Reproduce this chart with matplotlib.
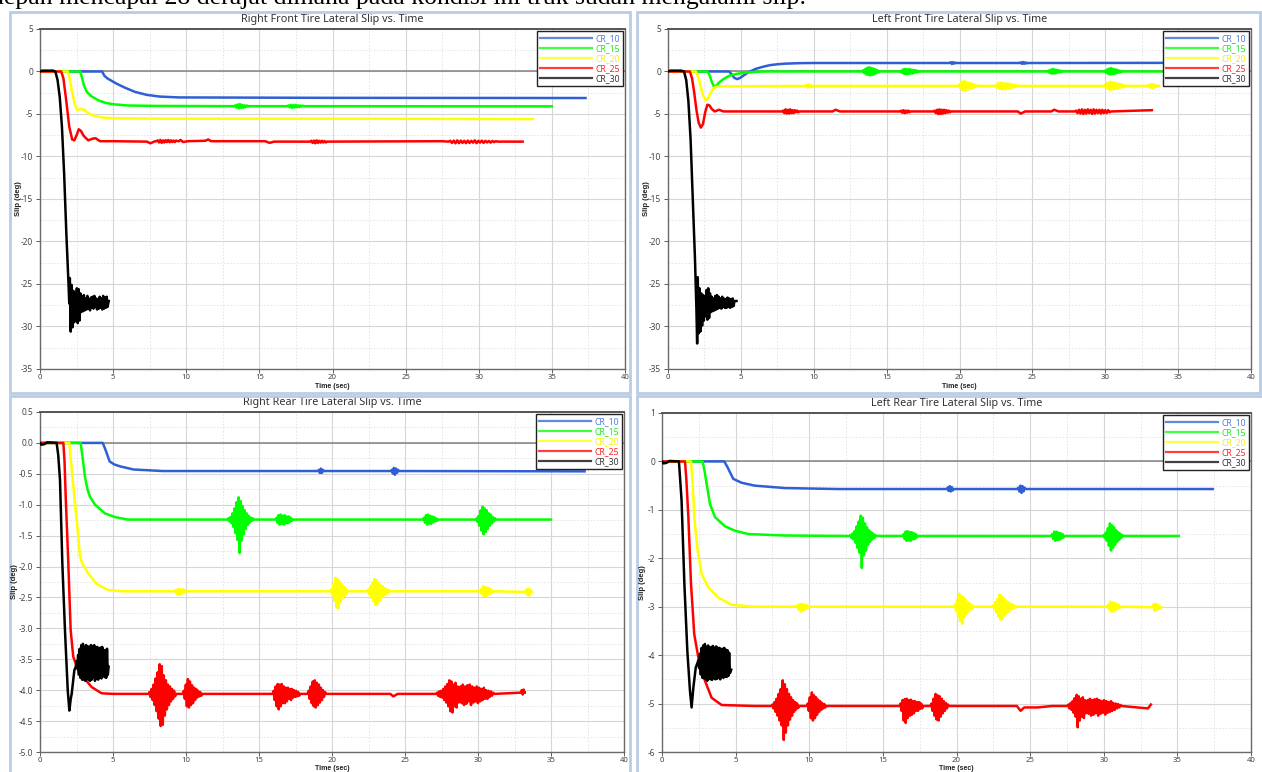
import numpy as np
import matplotlib
matplotlib.use("Agg")
import matplotlib.pyplot as plt
from matplotlib.patches import Rectangle
from matplotlib.ticker import MultipleLocator, FormatStrFormatter

plt.rcParams['axes.unicode_minus'] = False
plt.rcParams['font.family'] = ['Noto Sans', 'DejaVu Sans']

SERIES = ["CR_10", "CR_15", "CR_20", "CR_25", "CR_30"]
LINE_COLORS = ['#2f5fd4', '#00ff00', '#ffff00', '#ff0000', '#000000']
LABEL_COLORS = ['#4f7fe0', '#1ee81e', '#f2f200', '#ff2020', '#333333']
TIME_TICKS = [0, 5, 10, 15, 20, 25, 30, 35, 40]

# ---------------- Right Front ----------------
rf10_knots = [(0,0),(4.25,0),(4.4,-0.5),(4.6,-0.8),(4.8,-1.0),(5.2,-1.4),(5.8,-1.9),(6.5,-2.4),(7.3,-2.75),(8.2,-2.95),(9.5,-3.05),(20,-3.1),(37.3,-3.12)]
rf10_bursts = []
rf15_knots = [(0,0),(2.75,0),(2.85,-0.6),(3.0,-1.6),(3.2,-2.4),(3.5,-2.9),(4.0,-3.4),(4.5,-3.7),(5.0,-3.85),(6,-4.0),(8,-4.05),(13.2,-4.08),(14.4,-4.08),(16.9,-4.08),(18.1,-4.08),(35,-4.1)]
rf15_bursts = [(13.35, 0.08, -4.08, [0.1,-0.15,0.2,-0.25,0.25,-0.2,0.15,-0.2,0.1,-0.1,0.08,-0.05]),
               (17.0, 0.08, -4.08, [0.1,-0.15,0.15,-0.2,0.12,-0.15,0.15,-0.1,0.1,-0.12,0.08,-0.05,0.05])]
rf20_knots = [(0,0),(1.9,0),(2.0,-0.6),(2.2,-2.5),(2.4,-4.0),(2.55,-4.5),(2.8,-4.4),(3.0,-4.5),(3.3,-4.9),(3.7,-5.2),(4.2,-5.4),(5,-5.5),(8,-5.55),(20,-5.55),(33.7,-5.6)]
rf20_bursts = []
rf25_knots = [(0,0),(1.45,0),(1.6,-0.8),(1.8,-3.5),(2.0,-6.5),(2.2,-8.0),(2.35,-8.1),(2.5,-7.5),(2.65,-6.8),(2.8,-7.0),(3.0,-7.6),(3.3,-8.1),(3.6,-7.9),(3.8,-7.85),(4.1,-8.2),(5,-8.2),(7.3,-8.25),(7.55,-8.45),(7.8,-8.25),(7.9,-8.2),(9.5,-8.2),(9.6,-8.05),(9.8,-8.3),(10.1,-8.2),(11.3,-8.15),(11.5,-8.0),(11.7,-8.2),(15.4,-8.2),(15.7,-8.4),(16.0,-8.25),(18.4,-8.25),(19.7,-8.25),(27.5,-8.2),(27.9,-8.25),(31.4,-8.25),(33,-8.25)]
rf25_bursts = [(8.05, 0.09, -8.2, [0.1,-0.15,0.15,-0.2,0.1,-0.15,0.12,-0.1,0.15,-0.12,0.1,-0.1,0.08,-0.1,0.08]),
               (18.55, 0.09, -8.25, [0.1,-0.15,0.12,-0.2,0.15,-0.15,0.1,-0.12,0.1,-0.1,0.08,-0.1]),
               (28.05, 0.12, -8.25, [0.1,-0.15,0.12,-0.2,0.15,-0.18,0.12,-0.15,0.1,-0.18,0.12,-0.15,0.1,-0.12,0.15,-0.18,0.1,-0.12,0.12,-0.15,0.1,-0.1,0.08,-0.12,0.08,-0.06,0.05])]
rf30_knots = [(0,0),(0.15,0.1),(0.9,0.1),(1.05,0),(1.2,-1.0),(1.35,-3),(1.5,-6.5),(1.65,-12),(1.8,-19),(1.95,-25),(2.0,-27.3),(4.7,-27.0)]
rf30_bursts = [(2.04, 0.06, -27.3, [3.0,-3.3,2.2,-2.8,1.5,-2.2,1.3,-1.8,1.8,-2.3,1.7,-2.0,1.2,-1.0,0.8,-0.9,1.0,-0.8,0.6,-0.7,0.9,-0.6,0.5,-0.8,0.7,-0.5,0.8,-0.6,0.9,-0.4,0.6,-0.7,0.5,-0.6,0.8,-0.5,0.6,-0.7,0.9,-0.6,0.7,-0.5,0.8,-0.4])]

# ---------------- Left Front ----------------
lf10_knots = [(0,0),(4.2,0),(4.35,-0.3),(4.55,-0.75),(4.75,-0.9),(4.95,-0.75),(5.2,-0.45),(5.5,-0.1),(6.0,0.3),(6.5,0.55),(7.0,0.75),(7.5,0.85),(8.0,0.92),(9.0,0.98),(10,1.0),(37.3,1.02)]
lf10_bursts = [(19.4, 0.08, 1.0, [0.1,-0.12,0.1,-0.08,0.05]),
               (24.2, 0.08, 1.0, [0.08,-0.1,0.12,-0.1,0.08,-0.05])]
lf15_knots = [(0,0),(2.7,0),(2.85,-0.4),(3.0,-1.2),(3.15,-1.75),(3.3,-1.7),(3.5,-1.3),(3.8,-0.9),(4.2,-0.5),(4.8,-0.25),(5.5,-0.1),(6.5,0),(35,0)]
lf15_bursts = [(13.4, 0.07, 0, [0.15,-0.2,0.3,-0.35,0.45,-0.4,0.5,-0.45,0.4,-0.4,0.35,-0.3,0.25,-0.2,0.15,-0.1]),
               (16.0, 0.07, 0, [0.1,-0.15,0.25,-0.3,0.3,-0.3,0.25,-0.3,0.3,-0.25,0.2,-0.25,0.2,-0.15,0.15,-0.1,0.08,-0.05]),
               (26.1, 0.07, 0, [0.1,-0.15,0.2,-0.25,0.3,-0.25,0.25,-0.2,0.2,-0.15,0.15,-0.1,0.1,-0.05]),
               (30.0, 0.07, 0, [0.1,-0.15,0.25,-0.3,0.35,-0.35,0.4,-0.3,0.3,-0.3,0.25,-0.2,0.2,-0.15,0.1,-0.1,0.05])]
lf20_knots = [(0,0),(1.9,0),(2.05,-0.5),(2.2,-1.5),(2.4,-2.8),(2.6,-3.4),(2.75,-3.2),(2.9,-2.6),(3.1,-2.0),(3.3,-1.8),(4,-1.75),(9.0,-1.7),(33.7,-1.7)]
lf20_bursts = [(9.5, 0.08, -1.7, [0.15,-0.2,0.15,-0.15,0.1,-0.1]),
               (20.0, 0.07, -1.7, [0.2,-0.3,0.45,-0.5,0.6,-0.55,0.5,-0.45,0.4,-0.4,0.35,-0.3,0.3,-0.25,0.2,-0.15,0.1]),
               (22.5, 0.08, -1.7, [0.1,-0.2,0.3,-0.35,0.4,-0.4,0.35,-0.4,0.3,-0.35,0.3,-0.3,0.25,-0.25,0.2,-0.2,0.15,-0.1,0.1,-0.05]),
               (30.0, 0.08, -1.7, [0.15,-0.25,0.35,-0.4,0.5,-0.45,0.45,-0.4,0.4,-0.35,0.3,-0.3,0.25,-0.2,0.2,-0.15,0.1,-0.1]),
               (33.0, 0.08, -1.7, [0.15,-0.2,0.2,-0.25,0.2,-0.15,0.1,-0.1])]
lf25_knots = [(0,0),(1.5,0),(1.65,-0.8),(1.8,-2.5),(1.95,-4.5),(2.1,-6.0),(2.25,-6.6),(2.4,-6.2),(2.55,-4.8),(2.7,-3.9),(2.85,-4.0),(3.0,-4.4),(3.2,-4.7),(3.5,-4.5),(3.8,-4.7),(4.5,-4.7),(11.3,-4.7),(11.5,-4.5),(11.8,-4.7),(24.0,-4.7),(24.2,-4.95),(24.5,-4.7),(26.3,-4.7),(26.5,-4.5),(26.8,-4.7),(33.2,-4.55)]
lf25_bursts = [(7.9, 0.08, -4.7, [0.1,-0.2,0.25,-0.25,0.2,-0.25,0.25,-0.2,0.15,-0.2,0.15,-0.1,0.1,-0.1]),
               (16.0, 0.08, -4.7, [0.1,-0.15,0.15,-0.2,0.1,-0.15,0.1,-0.1]),
               (18.3, 0.08, -4.7, [0.1,-0.2,0.2,-0.3,0.25,-0.3,0.2,-0.25,0.2,-0.2,0.15,-0.15,0.1,-0.1]),
               (28.0, 0.1, -4.7, [0.1,-0.2,0.2,-0.25,0.25,-0.3,0.2,-0.25,0.25,-0.2,0.2,-0.3,0.25,-0.25,0.2,-0.2,0.2,-0.25,0.2,-0.2,0.15,-0.2,0.15,-0.1])]
lf30_knots = [(0,0),(0.15,0.1),(0.9,0.1),(1.1,0),(1.25,-1),(1.4,-3.5),(1.55,-8),(1.7,-15),(1.85,-22),(1.95,-28),(2.0,-32.0),(4.7,-27.0)]
lf30_bursts = [(2.04, 0.06, -27.3, [3.1,-3.5,1.8,-3.3,1.2,-2.6,1.0,-2.0,0.9,-1.5,1.6,-1.9,1.8,-1.7,1.2,-1.0,0.8,-0.9,0.6,-0.8,0.9,-0.7,1.0,-0.6,0.8,-0.5,0.6,-0.6,0.8,-0.4,0.6,-0.5,0.5,-0.5,0.7,-0.4,0.6,-0.5,0.5,-0.4,0.6,-0.3,0.3])]

# ---------------- Right Rear ----------------
rr10_knots = [(0,0),(4.3,0),(4.5,-0.12),(4.77,-0.3),(5.1,-0.35),(5.5,-0.38),(6.4,-0.43),(8.4,-0.455),(37.3,-0.46)]
rr10_bursts = [(19.1, 0.07, -0.455, [0.02,-0.03,0.04,-0.03,0.02]),
               (24.1, 0.07, -0.455, [0.02,-0.04,0.05,-0.06,0.04,-0.03,0.02])]
rr15_knots = [(0,0),(2.78,0),(2.9,-0.2),(3.08,-0.55),(3.25,-0.75),(3.42,-0.87),(3.77,-1.0),(4.45,-1.14),(5.14,-1.2),(6.0,-1.24),(35,-1.24)]
rr15_bursts = [(12.9, 0.07, -1.24, [0.02,-0.03,0.04,-0.06,0.1,-0.12,0.18,-0.22,0.28,-0.33,0.36,-0.54,0.3,-0.34,0.22,-0.24,0.15,-0.15,0.1,-0.09,0.06,-0.05,0.03,-0.02,0.02]),
               (16.2, 0.07, -1.24, [0.03,-0.05,0.07,-0.08,0.08,-0.07,0.06,-0.08,0.07,-0.06,0.05,-0.06,0.05,-0.04,0.03,-0.02]),
               (26.3, 0.07, -1.24, [0.03,-0.05,0.07,-0.08,0.08,-0.06,0.06,-0.07,0.05,-0.04,0.04,-0.03,0.02,-0.02]),
               (29.9, 0.07, -1.24, [0.02,-0.04,0.06,-0.1,0.15,-0.18,0.21,-0.24,0.18,-0.2,0.15,-0.15,0.1,-0.1,0.08,-0.06,0.04,-0.03,0.02])]
rr20_knots = [(0,0),(2.01,0),(2.12,-0.3),(2.35,-0.87),(2.58,-1.41),(2.74,-1.84),(2.9,-1.95),(3.3,-2.11),(3.88,-2.28),(4.68,-2.38),(5.6,-2.4),(33.7,-2.41)]
rr20_bursts = [(9.3, 0.08, -2.4, [0.02,-0.05,0.04,-0.06,0.03,-0.04,0.03,-0.03,0.02]),
               (19.95, 0.07, -2.4, [0.03,-0.06,0.12,-0.15,0.22,-0.26,0.2,-0.28,0.16,-0.18,0.12,-0.12,0.08,-0.08,0.05,-0.04]),
               (22.5, 0.07, -2.4, [0.03,-0.05,0.08,-0.1,0.14,-0.16,0.2,-0.22,0.18,-0.2,0.14,-0.15,0.1,-0.1,0.08,-0.07,0.05,-0.05,0.03,-0.03,0.02]),
               (30.2, 0.07, -2.4, [0.03,-0.05,0.08,-0.08,0.07,-0.08,0.06,-0.05,0.05,-0.04,0.03,-0.02]),
               (33.3, 0.07, -2.41, [0.04,-0.05,0.05,-0.06,0.04])]
rr25_knots = [(0,0),(1.6,0),(1.68,-0.3),(1.76,-0.87),(1.94,-1.95),(2.1,-3.03),(2.28,-3.46),(2.62,-3.68),(3.08,-3.82),(3.54,-3.95),(4.22,-4.05),(5,-4.06),(24.0,-4.06),(24.2,-4.1),(24.5,-4.06),(33.2,-4.04)]
rr25_bursts = [(7.5, 0.07, -4.06, [0.03,-0.05,0.08,-0.1,0.15,-0.18,0.25,-0.28,0.35,-0.4,0.48,-0.52,0.45,-0.5,0.3,-0.35,0.22,-0.25,0.15,-0.18,0.12,-0.12,0.08,-0.08,0.05,-0.04]),
               (9.85, 0.07, -4.06, [0.05,-0.08,0.15,-0.2,0.24,-0.22,0.2,-0.18,0.14,-0.15,0.1,-0.1,0.08,-0.06,0.05,-0.04,0.03,-0.03]),
               (16.0, 0.07, -4.06, [0.05,-0.1,0.12,-0.2,0.16,-0.25,0.15,-0.2,0.16,-0.15,0.12,-0.15,0.1,-0.12,0.1,-0.08,0.08,-0.1,0.08,-0.06,0.06,-0.05,0.05,-0.04,0.03,-0.03]),
               (18.4, 0.07, -4.06, [0.05,-0.08,0.12,-0.15,0.2,-0.2,0.22,-0.22,0.18,-0.18,0.15,-0.14,0.1,-0.1,0.06,-0.05,0.03]),
               (27.2, 0.07, -4.06, [0.02,-0.03,0.04,-0.05,0.05,-0.06,0.08,-0.1,0.12,-0.14,0.16,-0.2,0.22,-0.28,0.2,-0.3,0.15,-0.2,0.18,-0.22,0.12,-0.14]),
               (28.8, 0.08, -4.06, [0.12,-0.15,0.15,-0.18,0.12,-0.16,0.14,-0.12,0.15,-0.18,0.12,-0.14,0.1,-0.12,0.12,-0.15,0.1,-0.12,0.08,-0.1,0.1,-0.08,0.06,-0.08,0.05,-0.05,0.04,-0.03,0.02]),
               (33.0, 0.06, -4.04, [0.04,-0.03,0.05])]
rr30_knots = [(0,0),(0.1,-0.03),(0.3,-0.02),(0.5,0.01),(1.14,0),(1.25,-0.2),(1.37,-0.6),(1.53,-1.95),(1.71,-3.03),(1.9,-4.0),(2.01,-4.33),(2.1,-4.15),(2.17,-4.06),(2.35,-3.68),(2.45,-3.62),(4.7,-3.62)]
rr30_bursts = [(2.5, 0.055, -3.55, [0.02,-0.1,0.12,-0.2,0.22,-0.25,0.28,-0.28,0.3,-0.28,0.25,-0.3,0.28,-0.25,0.26,-0.28,0.25,-0.3,0.28,-0.28,0.26,-0.25,0.28,-0.3,0.24,-0.26,0.25,-0.28,0.22,-0.25,0.24,-0.26,0.25,-0.22,0.2,-0.24,0.2,-0.25,0.22,-0.2])]

# ---------------- Left Rear ----------------
lr10_knots = [(0,0),(4.23,0),(4.45,-0.12),(4.84,-0.36),(5.4,-0.44),(6.3,-0.5),(8.35,-0.55),(12,-0.57),(37.4,-0.57)]
lr10_bursts = [(19.4, 0.07, -0.57, [0.03,-0.04,0.06,-0.05,0.04,-0.03]),
               (24.2, 0.07, -0.57, [0.03,-0.05,0.07,-0.08,0.06,-0.05,0.03])]
lr15_knots = [(0,0),(2.76,0),(2.88,-0.18),(3.03,-0.46),(3.26,-0.88),(3.6,-1.15),(4.28,-1.34),(4.95,-1.43),(5.86,-1.5),(8.35,-1.53),(35.1,-1.54)]
lr15_bursts = [(12.8, 0.07, -1.54, [0.02,-0.04,0.05,-0.07,0.1,-0.14,0.2,-0.25,0.3,-0.35,0.42,-0.66,0.38,-0.4,0.26,-0.3,0.18,-0.18,0.12,-0.12,0.08,-0.07,0.05,-0.04,0.02]),
               (16.4, 0.07, -1.54, [0.04,-0.06,0.09,-0.1,0.1,-0.09,0.08,-0.1,0.08,-0.07,0.06,-0.06,0.04,-0.03]),
               (26.5, 0.07, -1.54, [0.04,-0.06,0.09,-0.1,0.09,-0.08,0.07,-0.08,0.06,-0.05,0.04,-0.03]),
               (30.0, 0.07, -1.54, [0.02,-0.04,0.07,-0.1,0.16,-0.2,0.26,-0.3,0.22,-0.24,0.18,-0.18,0.12,-0.12,0.08,-0.08,0.05,-0.04,0.02])]
lr20_knots = [(0,0),(1.97,0),(2.07,-0.4),(2.19,-1.15),(2.42,-1.84),(2.69,-2.32),(3.14,-2.6),(3.82,-2.81),(4.73,-2.96),(6.3,-3.0),(33.9,-3.01)]
lr20_bursts = [(9.2, 0.08, -3.0, [0.03,-0.06,0.05,-0.1,0.06,-0.08,0.04,-0.05,0.03,-0.02]),
               (19.9, 0.07, -3.0, [0.04,-0.08,0.14,-0.2,0.27,-0.3,0.22,-0.35,0.2,-0.22,0.15,-0.15,0.1,-0.1,0.07,-0.06,0.04,-0.03]),
               (22.5, 0.07, -3.0, [0.03,-0.05,0.1,-0.12,0.16,-0.2,0.25,-0.27,0.22,-0.25,0.18,-0.18,0.13,-0.14,0.1,-0.1,0.07,-0.06,0.05,-0.04,0.03,-0.02]),
               (30.3, 0.07, -3.0, [0.04,-0.06,0.1,-0.1,0.09,-0.1,0.08,-0.07,0.06,-0.05,0.04,-0.03]),
               (33.4, 0.07, -3.01, [0.06,-0.08,0.07,-0.06,0.05,-0.04])]
lr25_knots = [(0,0),(1.56,0),(1.65,-0.35),(1.79,-1.15),(1.97,-2.53),(2.19,-3.57),(2.47,-4.05),(2.92,-4.53),(3.37,-4.88),(4.05,-5.03),(6.3,-5.05),(24.1,-5.05),(24.35,-5.15),(24.6,-5.08),(25.5,-5.08),(26.5,-5.05),(27.5,-5.05),(33.0,-5.1),(33.2,-5.02)]
lr25_bursts = [(7.5, 0.07, -5.05, [0.03,-0.05,0.08,-0.12,0.15,-0.2,0.25,-0.3,0.35,-0.4,0.53,-0.7,0.45,-0.55,0.35,-0.4,0.25,-0.28,0.18,-0.2,0.12,-0.12,0.08,-0.07,0.05,-0.04]),
               (9.9, 0.07, -5.05, [0.05,-0.1,0.18,-0.25,0.28,-0.3,0.22,-0.25,0.18,-0.18,0.13,-0.12,0.1,-0.08,0.06,-0.05,0.04,-0.03]),
               (16.2, 0.07, -5.05, [0.05,-0.1,0.12,-0.3,0.14,-0.35,0.15,-0.25,0.12,-0.2,0.13,-0.18,0.1,-0.15,0.1,-0.1,0.08,-0.1,0.08,-0.06,0.05,-0.05]),
               (18.3, 0.07, -5.05, [0.05,-0.1,0.15,-0.2,0.25,-0.28,0.22,-0.3,0.2,-0.22,0.15,-0.15,0.1,-0.1,0.06,-0.05,0.03]),
               (27.6, 0.07, -5.05, [0.03,-0.05,0.06,-0.08,0.1,-0.14,0.16,-0.22,0.23,-0.44,0.2,-0.3,0.15,-0.22,0.18,-0.25,0.12,-0.15]),
               (28.9, 0.08, -5.05, [0.12,-0.16,0.15,-0.2,0.12,-0.18,0.14,-0.15,0.15,-0.2,0.12,-0.16,0.1,-0.14,0.12,-0.18,0.1,-0.14,0.08,-0.12,0.1,-0.1,0.06,-0.08,0.05,-0.05,0.04,-0.03,0.02])]
lr30_knots = [(0,0),(0.1,-0.04),(0.3,-0.03),(0.5,0.01),(1.15,0),(1.33,-0.81),(1.52,-2.53),(1.72,-3.91),(1.9,-4.74),(2.01,-5.08),(2.13,-4.67),(2.29,-4.26),(2.42,-4.15),(4.7,-4.3)]
lr30_bursts = [(2.47, 0.055, -4.15, [0.05,-0.12,0.18,-0.25,0.3,-0.32,0.35,-0.33,0.38,-0.35,0.32,-0.38,0.35,-0.33,0.3,-0.35,0.32,-0.36,0.34,-0.32,0.3,-0.35,0.33,-0.34,0.3,-0.32,0.3,-0.35,0.28,-0.3,0.28,-0.32,0.3,-0.3,0.26,-0.3,0.25,-0.28,0.2,-0.22])]

PANELS = [
    dict(title="Right Front Tire Lateral Slip vs. Time", box=(40, 625, 29, 369), frame=(10, 630, 12, 393),
         ylim=(-35, 5), ymajor=5, ymin=2.5, fmt="%d", ylab_x=18, xlab_y=386,
         data=[(rf10_knots, rf10_bursts), (rf15_knots, rf15_bursts), (rf20_knots, rf20_bursts), (rf25_knots, rf25_bursts), (rf30_knots, rf30_bursts)]),
    dict(title="Left Front Tire Lateral Slip vs. Time", box=(668, 1251, 29, 369), frame=(637, 1260, 12, 393),
         ylim=(-35, 5), ymajor=5, ymin=2.5, fmt="%d", ylab_x=647, xlab_y=386,
         data=[(lf10_knots, lf10_bursts), (lf15_knots, lf15_bursts), (lf20_knots, lf20_bursts), (lf25_knots, lf25_bursts), (lf30_knots, lf30_bursts)]),
    dict(title="Right Rear Tire Lateral Slip vs. Time", box=(40, 624, 412, 752), frame=(10, 630, 396, 775),
         ylim=(-5.0, 0.5), ymajor=0.5, ymin=0.25, fmt="%.1f", ylab_x=15, xlab_y=768,
         data=[(rr10_knots, rr10_bursts), (rr15_knots, rr15_bursts), (rr20_knots, rr20_bursts), (rr25_knots, rr25_bursts), (rr30_knots, rr30_bursts)]),
    dict(title="Left Rear Tire Lateral Slip vs. Time", box=(662, 1251, 413, 752), frame=(637, 1264, 396, 775),
         ylim=(-6, 1), ymajor=1, ymin=0.5, fmt="%d", ylab_x=643, xlab_y=768,
         data=[(lr10_knots, lr10_bursts), (lr15_knots, lr15_bursts), (lr20_knots, lr20_bursts), (lr25_knots, lr25_bursts), (lr30_knots, lr30_bursts)]),
]

W, H = 1262, 772
fig = plt.figure(figsize=(W / 100, H / 100), dpi=100)
fig.patch.set_facecolor('white')


def build(knots, bursts):
    pts = list(knots)
    for t0, dt, base, offs in bursts:
        if t0 > 5:
            pts.append((t0 - dt, base))
            pts.append((t0 + len(offs) * dt, base))
        for i, o in enumerate(offs):
            pts.append((t0 + i * dt, base + o))
    pts.sort(key=lambda p: p[0])
    return np.array([p[0] for p in pts]), np.array([p[1] for p in pts])


def fx(px):
    return px / W


def fy(py):
    return 1 - py / H


for p in PANELS:
    fl, fr, ft, fb = p['frame']
    fig.patches.append(Rectangle((fx(fl), fy(fb)), fx(fr - fl), (fb - ft) / H, transform=fig.transFigure,
                                 facecolor='none', edgecolor='#b9cde6', lw=2.0, zorder=0))
    l, r, t, b = p['box']
    ax = fig.add_axes([fx(l), fy(b), fx(r - l), (b - t) / H])
    ax.set_xlim(0, 40)
    ax.set_ylim(*p['ylim'])
    ax.set_xticks(TIME_TICKS)
    ax.xaxis.set_minor_locator(MultipleLocator(2.5))
    ax.yaxis.set_major_locator(MultipleLocator(p['ymajor']))
    ax.yaxis.set_minor_locator(MultipleLocator(p['ymin']))
    ax.yaxis.set_major_formatter(FormatStrFormatter(p['fmt']))
    ax.grid(which='major', color='#d6d6d6', lw=0.8)
    ax.grid(which='minor', color='#e2e2e2', lw=0.6, ls=(0, (2, 2)))
    ax.set_axisbelow(True)
    ax.tick_params(which='major', labelsize=6, colors='#444444', length=3, width=0.6, pad=2)
    ax.tick_params(axis='x', which='major', pad=0.5, labelsize=5.6)
    ax.tick_params(which='minor', length=0)
    for s in ax.spines.values():
        s.set_color('#6a6a6a')
        s.set_linewidth(1.0)
    ax.spines['top'].set_linewidth(1.4)
    ax.spines['top'].set_color('#555555')
    ax.axhline(0, color='#8a8a8a', lw=1.2, zorder=1)
    for (knots, bursts), name, c in zip(p['data'], SERIES, LINE_COLORS):
        tt, yy = build(knots, bursts)
        ax.plot(tt, yy, color=c, lw=1.8, label=name, zorder=3)
    leg = ax.legend(loc='upper right', fontsize=6.2, frameon=True, fancybox=False, framealpha=1,
                    edgecolor='#222222', handlelength=6.0, handletextpad=0.4, labelspacing=0.12,
                    borderpad=0.35, borderaxespad=0.25)
    leg.get_frame().set_linewidth(1.0)
    for txt, lc in zip(leg.get_texts(), LABEL_COLORS):
        txt.set_color(lc)
    for lh in leg.get_lines():
        lh.set_linewidth(1.6)
        lh.set_alpha(0.75)
    ax.set_title(p['title'], fontsize=7.8, color='#333333', pad=5)
    fig.text(fx((l + r) / 2), fy(p['xlab_y']), 'Time (sec)', fontsize=5.0, fontweight='bold',
             family='Liberation Sans', color='#222222', ha='center', va='center')
    fig.text(fx(p['ylab_x']), fy((t + b) / 2), 'Slip (deg)', rotation=90, fontsize=5.5, fontweight='bold',
             family='Liberation Sans', color='#222222', ha='center', va='center')

fig.text(fx(806), fy(4), "depan mencapai 28 derajat dimana pada kondisi ini truk sudah mengalami slip.",
         family='Liberation Serif', fontsize=18.5, ha='right', va='baseline', color='black')

fig.savefig('out.png', dpi=100)
